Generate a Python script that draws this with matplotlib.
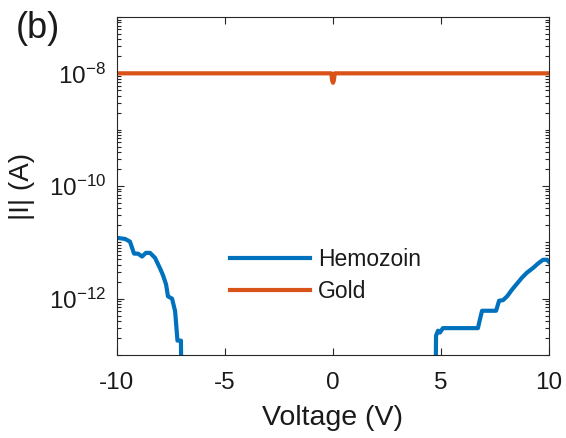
import numpy as np
import matplotlib
matplotlib.use("Agg")
import matplotlib.pyplot as plt
from matplotlib.ticker import FixedLocator, LogLocator, NullFormatter

plt.rcParams['font.family'] = ['Liberation Sans', 'DejaVu Sans']
plt.rcParams['mathtext.fontset'] = 'custom'
plt.rcParams['mathtext.rm'] = 'Liberation Sans'
plt.rcParams['mathtext.it'] = 'Liberation Sans'

# Hemozoin data (left branch, dips below axis, right branch)
hemo_v = [-10.0, -9.63, -9.4, -9.21, -9.03, -8.84, -8.66, -8.47, -8.24, -8.0, -7.87,
          -7.73, -7.64, -7.45, -7.31, -7.2, -7.04, -6.98,
          4.72, 4.77, 4.86, 4.95, 5.09, 6.71, 6.81, 6.90, 7.55, 7.69, 7.87,
          8.06, 8.29, 8.52, 8.75, 8.98, 9.26, 9.49, 9.72, 9.91, 10.0]
hemo_i = [1.2e-11, 1.15e-11, 1.03e-11, 6.3e-12, 6.3e-12, 5.6e-12, 6.5e-12, 6.5e-12, 5.3e-12,
          3.4e-12, 2.6e-12, 1.8e-12, 1.1e-12, 1.0e-12, 6.0e-13, 1.8e-13, 1.8e-13, 1e-15,
          1e-15, 2.2e-13, 2.7e-13, 2.5e-13, 3.0e-13, 3.0e-13, 4.4e-13, 6.1e-13, 6.1e-13,
          9.2e-13, 9.4e-13, 1.1e-12, 1.45e-12, 1.85e-12, 2.36e-12, 2.9e-12, 3.5e-12,
          4.2e-12, 4.9e-12, 4.9e-12, 4.5e-12]

# Gold data
gold_v = [-10.0, -0.08, -0.04, 0.0, 0.04, 0.08, 10.0]
gold_i = [1.0e-8, 1.0e-8, 7.5e-9, 6.8e-9, 7.5e-9, 1.0e-8, 1.0e-8]

xticks = [-10, -5, 0, 5, 10]
yticks = [1e-12, 1e-10, 1e-8]
ytick_labels = ['$\\mathregular{10^{-12}}$', '$\\mathregular{10^{-10}}$', '$\\mathregular{10^{-8}}$']

blue = '#0072BD'
orange = '#D95319'

fig = plt.figure(figsize=(5.66, 4.38), dpi=100)
ax = fig.add_axes([117/566, 1-355/438, (549-117)/566, (355-17)/438])

ax.plot(hemo_v, hemo_i, color=blue, lw=3.0, label='Hemozoin')
ax.plot(gold_v, gold_i, color=orange, lw=3.0, label='Gold')

ax.set_yscale('log')
ax.set_xlim(-10, 10)
ax.set_ylim(1e-13, 1e-7)
ax.set_xticks(xticks)
ax.set_xticklabels([str(t) for t in xticks])
ax.yaxis.set_major_locator(FixedLocator(yticks))
ax.set_yticklabels(ytick_labels)
ax.yaxis.set_minor_locator(LogLocator(base=10, subs=np.arange(1, 10), numticks=20))
ax.yaxis.set_minor_formatter(NullFormatter())

ax.tick_params(axis='both', which='both', direction='in', top=True, right=True,
               labelsize=17.5, width=0.8, color='#262626', labelcolor='#1a1a1a')
ax.tick_params(axis='both', which='major', length=5)
ax.tick_params(axis='both', which='minor', length=3)
ax.tick_params(axis='x', pad=12)
ax.tick_params(axis='y', pad=8)
for s in ax.spines.values():
    s.set_color('#262626')
    s.set_linewidth(0.8)

ax.set_xlabel('Voltage (V)', fontsize=20.5, color='#1a1a1a')
ax.xaxis.label.set_va('center')
ax.xaxis.set_label_coords(0.5, (355 - 418) / 338)
ax.set_ylabel('|I| (A)', fontsize=20, color='#1a1a1a')
ax.yaxis.label.set_va('center')
ax.yaxis.set_label_coords((22 - 117) / 432, 0.5)

leg = ax.legend(loc='upper left', bbox_to_anchor=((230 - 117) / 432, (355 - 248) / 338),
                frameon=False, fontsize=16.5, handlelength=3.5, handletextpad=0.35,
                labelspacing=0.38, borderaxespad=0, borderpad=0)
for t in leg.get_texts():
    t.set_color('#1a1a1a')

fig.text(38/566, 1-29/438, '(b)', fontsize=26, va='center', ha='center', color='#1a1a1a')

fig.savefig('out.png', dpi=100)
